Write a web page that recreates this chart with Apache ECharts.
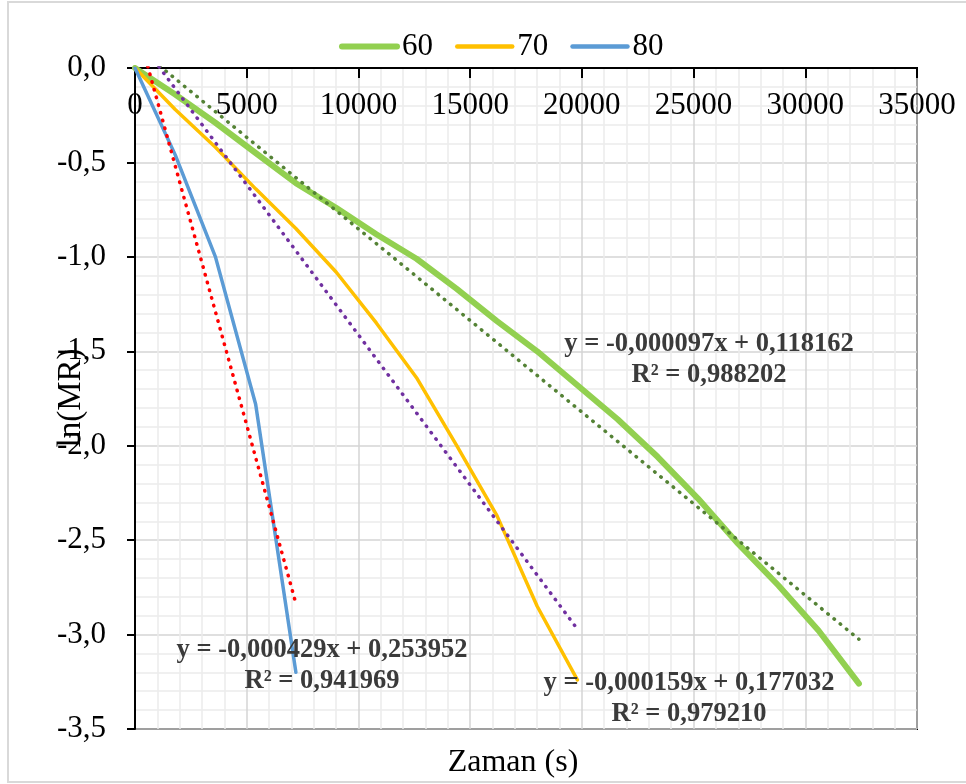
<!DOCTYPE html>
<html>
<head>
<meta charset="utf-8">
<script src="https://cdn.jsdelivr.net/npm/echarts@6/dist/echarts.min.js"></script>
<style>
html,body{margin:0;padding:0;background:#fff;}
#chart{width:966px;height:784px;}
</style>
</head>
<body>
<div id="chart"></div>
<script>
// ---- data ----
const seriesNames = ['60', '70', '80'];
const times60 = [0, 1800, 3600, 5400, 7200, 9000, 10800, 12600, 14400, 16200, 18000, 19800, 21600, 23400, 25200, 27000, 28800, 30600, 32400];
const values60 = [0, -0.14, -0.29, -0.45, -0.61, -0.74, -0.88, -1.01, -1.17, -1.34, -1.50, -1.68, -1.86, -2.06, -2.28, -2.52, -2.74, -2.98, -3.26];
const times70 = [0, 1800, 3600, 5400, 7200, 9000, 10800, 12600, 14400, 16200, 18000, 19800];
const values70 = [0, -0.22, -0.42, -0.64, -0.85, -1.08, -1.35, -1.64, -2.00, -2.37, -2.85, -3.24];
const times80 = [0, 1800, 3600, 5400, 7200];
const values80 = [0, -0.46, -1.00, -1.78, -3.20];
// linear trendlines (from the equations printed on the chart)
const trendSlopes = [-0.000097, -0.000159, -0.000429];
const trendIntercepts = [0.118162, 0.177032, 0.253952];
const trendR2 = ['0,988202', '0,979210', '0,941969'];
const trendRanges = [[0, 32400], [0, 19800], [0, 7200]];
const xTicks = [0, 5000, 10000, 15000, 20000, 25000, 30000, 35000];
const yTicks = [0, -0.5, -1.0, -1.5, -2.0, -2.5, -3.0, -3.5];
const xTitle = 'Zaman (s)';
const yTitle = 'ln(MR)';

// ---- build ----
const FONT = "'Liberation Serif', 'Times New Roman', serif";
const lineColors = ['#92D050', '#FFC000', '#5B9BD5'];
const lineWidths = [6, 3.5, 3.5];
const legendWidths = [6, 4.5, 4.5];
const trendColors = ['#548235', '#7030A0', '#FF0000'];
const allTimes = [times60, times70, times80];
const allValues = [values60, values70, values80];

function fmtNum(v, d) {
  const s = Math.abs(v).toFixed(d).replace('.', ',');
  return (v < 0 ? '-' : '') + s;
}
function eqText(i) {
  const m = trendSlopes[i], b = trendIntercepts[i];
  return 'y = ' + fmtNum(m, 6) + 'x ' + (b < 0 ? '- ' : '+ ') + fmtNum(Math.abs(b), 6) + '\nR² = ' + trendR2[i];
}

const series = [];
seriesNames.forEach((n, i) => {
  series.push({
    name: n, type: 'line', symbol: 'none', smooth: false,
    data: allTimes[i].map((t, k) => [t, allValues[i][k]]),
    lineStyle: { color: lineColors[i], width: lineWidths[i], cap: 'round', join: 'round' },
    itemStyle: { color: lineColors[i] },
    z: 3
  });
});
seriesNames.forEach((n, i) => {
  const [x0, x1] = trendRanges[i];
  series.push({
    name: 'trend' + n, type: 'line', symbol: 'none', clip: true,
    data: [[x0, trendSlopes[i] * x0 + trendIntercepts[i]], [x1, trendSlopes[i] * x1 + trendIntercepts[i]]],
    lineStyle: { color: trendColors[i], width: 3.5, type: [0.5, 7.5], cap: 'round' },
    z: 4, silent: true
  });
});

const annPos = [[709, 360], [689, 699], [322, 666]];

const chart = echarts.init(document.getElementById('chart'), null, { renderer: 'canvas' });
chart.setOption({
  animation: false,
  backgroundColor: '#fff',
  textStyle: { fontFamily: FONT },
  grid: { left: 135, top: 68, width: 782, height: 661, show: true, borderColor: '#000', borderWidth: 2, containLabel: false },
  legend: {
    data: seriesNames.map((n, i) => ({ name: n, lineStyle: { width: legendWidths[i], cap: 'round' } })),
    left: 334, top: 26, itemWidth: 55, itemHeight: 14, itemGap: 22,
    itemStyle: { opacity: 0 },
    textStyle: { fontFamily: FONT, fontSize: 31, color: '#000', padding: [0, 0, 0, 0] }
  },
  xAxis: {
    type: 'value', position: 'top', min: xTicks[0], max: xTicks[xTicks.length - 1], interval: xTicks[1] - xTicks[0],
    axisLine: { show: true, onZero: false, lineStyle: { color: '#000', width: 2 } },
    axisTick: { show: true, inside: true, length: 10, lineStyle: { color: '#000', width: 2 } },
    axisLabel: { inside: true, margin: 22, fontFamily: FONT, fontSize: 31, color: '#000', formatter: v => String(v) },
    splitLine: { show: true, lineStyle: { color: '#d4d4d4', width: 1.5 } },
    minorTick: { show: false, splitNumber: 5 },
    minorSplitLine: { show: true, lineStyle: { color: '#ececec', width: 1.5 } }
  },
  yAxis: {
    type: 'value', min: yTicks[yTicks.length - 1], max: yTicks[0], interval: 0.5,
    axisLine: { show: true, onZero: false, lineStyle: { color: '#000', width: 2 } },
    axisTick: { show: true, inside: false, length: 8, lineStyle: { color: '#000', width: 2 } },
    axisLabel: { margin: 29, fontFamily: FONT, fontSize: 31, color: '#000', formatter: v => fmtNum(v, 1) },
    splitLine: { show: true, lineStyle: { color: '#d4d4d4', width: 1.5 } },
    minorTick: { show: false, splitNumber: 5 },
    minorSplitLine: { show: true, lineStyle: { color: '#ececec', width: 1.5 } }
  },
  series: series,
  graphic: [
    { type: 'rect', shape: { x: 8, y: 2, width: 970, height: 780 }, style: { fill: 'none', stroke: '#d9d9d9', lineWidth: 2 }, z: -10, silent: true },
    { type: 'text', x: 513, y: 763, style: { text: xTitle, font: '32px ' + FONT, fill: '#000', align: 'center', verticalAlign: 'middle' }, z: 10 },
    { type: 'text', x: 71, y: 398, rotation: Math.PI / 2, style: { text: yTitle, font: '33px ' + FONT, fill: '#000', align: 'center', verticalAlign: 'middle' }, z: 10 }
  ].concat(annPos.map((p, i) => ({
    type: 'text', x: p[0], y: p[1],
    style: { text: eqText(i), font: 'bold 26.5px ' + FONT, fill: '#3a3a3a', align: 'center', verticalAlign: 'middle', lineHeight: 31 },
    z: 20
  })))
});
</script>
</body>
</html>
